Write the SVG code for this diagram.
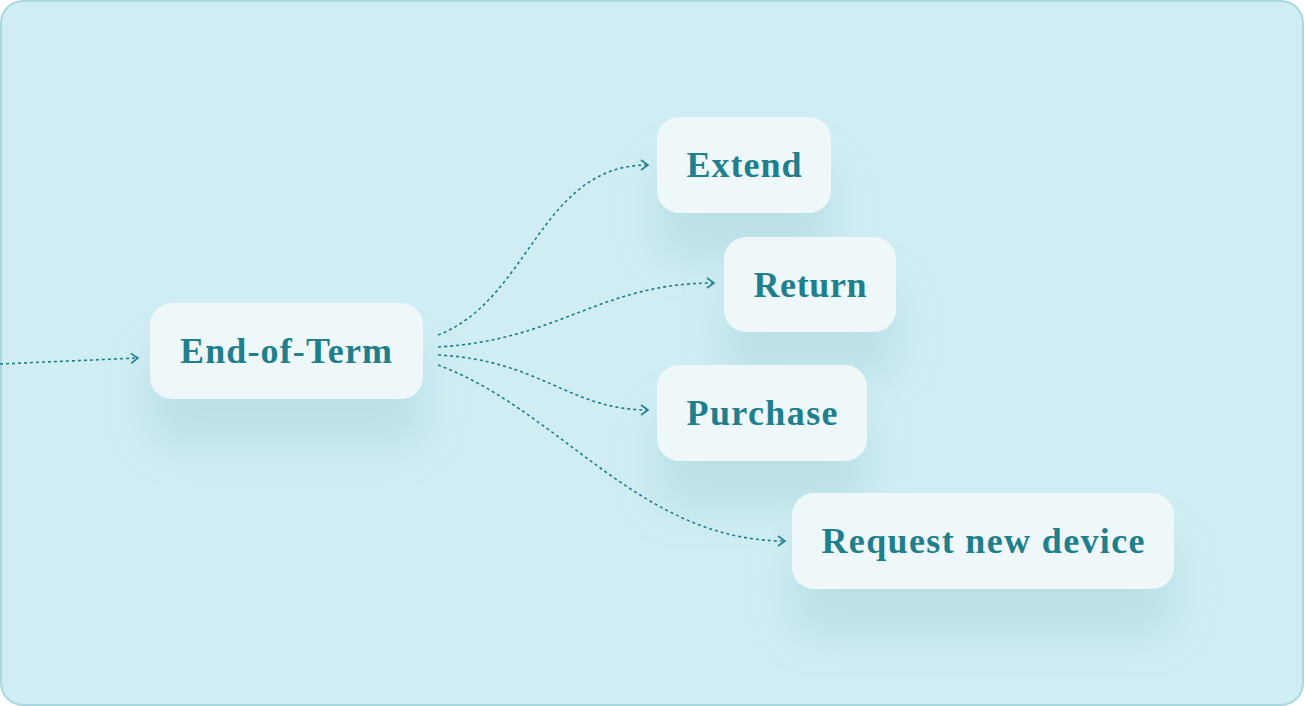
<svg xmlns="http://www.w3.org/2000/svg" width="1304" height="706" viewBox="0 0 1304 706">
<defs>
<style>
.node rect{fill:#eef8fb;}
.node text{font-family:"Liberation Serif","DejaVu Serif",serif;font-weight:bold;font-size:36px;fill:#1f7f8c;text-anchor:middle;}
.conn path{fill:none;stroke:#1e7d8a;stroke-width:1.6;stroke-dasharray:3 3;}
</style>
<filter id="sh" x="-30%" y="-30%" width="160%" height="220%">
<feDropShadow dx="0" dy="45" stdDeviation="20" flood-color="#8cc4cd" flood-opacity="0.3"/>
</filter>
<marker id="arr" markerUnits="userSpaceOnUse" markerWidth="14" markerHeight="14" refX="8" refY="6" orient="auto" viewBox="0 0 14 14">
<path d="M1,1 L8,6 L1,11" fill="none" stroke="#1e7d8a" stroke-width="1.6"/>
</marker>
</defs>
<rect x="1" y="1" width="1302" height="704" rx="22" fill="#cfedf2" stroke="#a9d8e0" stroke-width="2"/>
<g class="conn">
<path d="M0,364 L138,358" marker-end="url(#arr)"/>
<path d="M438,335 C530,300 540,165 648,165" marker-end="url(#arr)"/>
<path d="M438,347 C560,340 600,283 714,283" marker-end="url(#arr)"/>
<path d="M438,355 C540,360 570,410 648,410" marker-end="url(#arr)"/>
<path d="M438,365 C560,410 640,541 785,541" marker-end="url(#arr)"/>
</g>
<g id="end-of-term" class="node"><rect x="150" y="303" width="273" height="96" rx="22" filter="url(#sh)"/><text x="286" y="363" textLength="212" lengthAdjust="spacing">End-of-Term</text></g>
<g id="extend" class="node"><rect x="657" y="117" width="174" height="96" rx="22" filter="url(#sh)"/><text x="744" y="177" textLength="115" lengthAdjust="spacing">Extend</text></g>
<g id="return" class="node"><rect x="724" y="237" width="172" height="95" rx="22" filter="url(#sh)"/><text x="810" y="297" textLength="113" lengthAdjust="spacing">Return</text></g>
<g id="purchase" class="node"><rect x="657" y="365" width="210" height="96" rx="22" filter="url(#sh)"/><text x="762" y="425" textLength="151" lengthAdjust="spacing">Purchase</text></g>
<g id="request-new-device" class="node"><rect x="792" y="493" width="382" height="96" rx="22" filter="url(#sh)"/><text x="983" y="553" textLength="323" lengthAdjust="spacing">Request new device</text></g>
</svg>
